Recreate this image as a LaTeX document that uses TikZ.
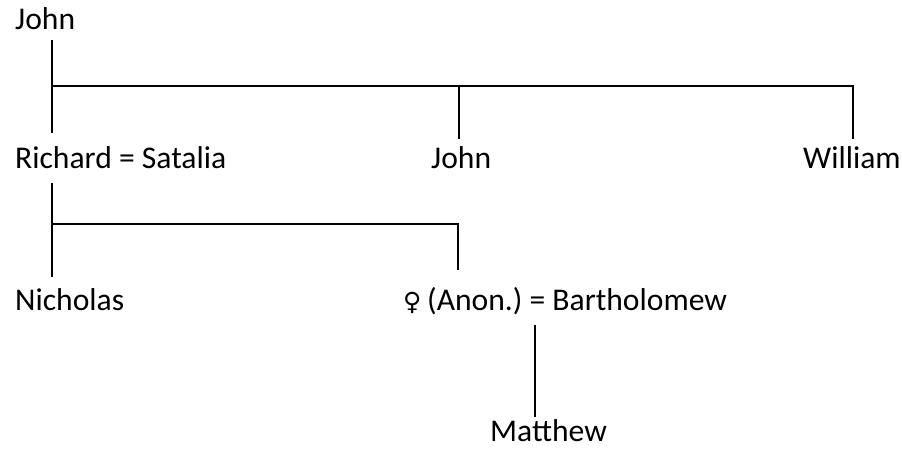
\documentclass[tikz,border=0pt]{standalone}
\usepackage{fontspec}
\setmainfont{Carlito}
\newfontfamily\symfont{DejaVu Sans}
\usepackage{tikz}
\usetikzlibrary{calc}
\frenchspacing

\begin{document}
\begin{tikzpicture}[x=1pt,y=-1pt,
		person/.style={anchor=base west,inner sep=0pt,font=\fontsize{31.6}{38}\selectfont},
		line/.style={line width=1.5pt,black}]
		\useasboundingbox (0,0) rectangle (902,448);
		% people
		\node[person] (john) at (15,29) {John};
		\node[person] (richard) at (15,168) {Richard = Satalia};
		\node[person] (john2) at (431,168) {John};
		\node[person] (william) at (803,168) {William};
		\node[person] (nicholas) at (15,310) {Nicholas};
		\node[person] (anon) at (403,310) {{\symfont\fontsize{25}{30}\selectfont ♀}\hspace{0.18em}(Anon.) = Bartholomew};
		\node[person] (matthew) at (490,441) {Matthew};
		% line ends
		\coordinate (j-down) at (52,40);
		\coordinate (r-up) at (52,133);
		\coordinate (bar1) at (52,86);
		\coordinate (j2-up) at (459,139);
		\coordinate (w-up) at (853,139);
		\coordinate (r-down) at (52,183);
		\coordinate (bar2) at (52,224);
		\coordinate (n-up) at (52,277);
		\coordinate (a-up) at (458,270);
		\coordinate (b-down) at (535,325);
		\coordinate (m-up) at (535,417);
		% lines
		\draw[line] (j-down) -- (r-up);
		\draw[line] (bar1) -| (w-up);
		\draw[line] (bar1 -| j2-up) -- (j2-up);
		\draw[line] (r-down) -- (n-up);
		\draw[line] (bar2) -| (a-up);
		\draw[line] (b-down) -- (m-up);
	\end{tikzpicture}
\end{document}
